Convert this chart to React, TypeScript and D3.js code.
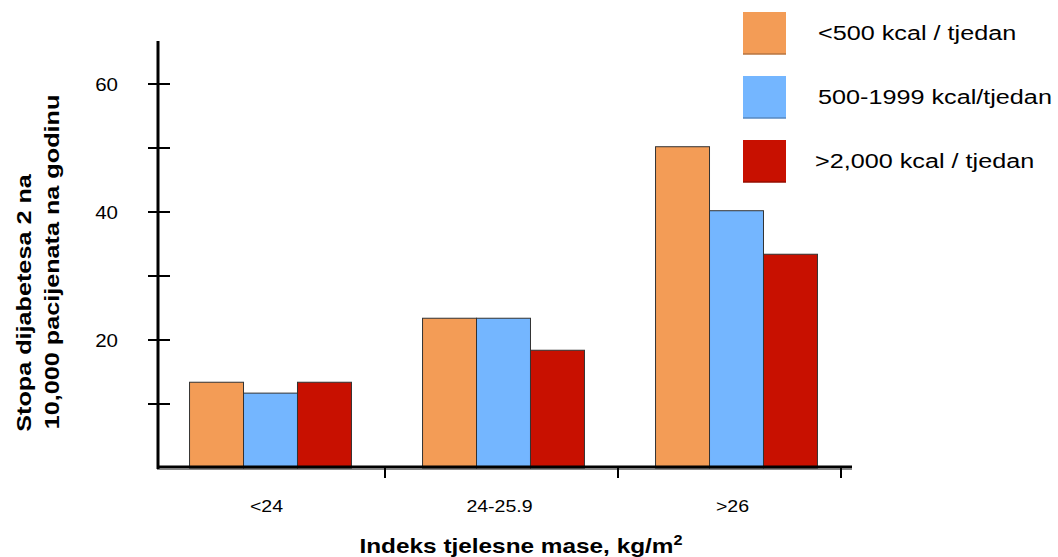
import React from "react";
import * as d3 from "d3";

const categories = ["<24", "24-25.9", ">26"];
const seriesNames = ["<500 kcal / tjedan", "500-1999 kcal/tjedan", ">2,000 kcal / tjedan"];
const lowActivity = [13.4, 23.4, 50.2];
const midActivity = [11.7, 23.4, 40.2];
const highActivity = [13.4, 18.4, 33.4];
const majorTicks = [20, 40, 60];
const minorTicks = [10, 30, 50];
const colors = ["#F39C56", "#74B6FF", "#C81000"];

const W = 1058;
const H = 557;
const FONT = "'Liberation Sans', Arial, Helvetica, sans-serif";

type STProps = {
  x: number;
  y: number;
  sx: number;
  rotate?: number;
  anchor?: "start" | "middle" | "end";
  size: number;
  bold?: boolean;
  dy?: string;
  children: React.ReactNode;
};

function SText({ x, y, sx, rotate = 0, anchor = "start", size, bold, dy, children }: STProps) {
  return (
    <text
      transform={`translate(${x},${y}) rotate(${rotate}) scale(${sx},1)`}
      textAnchor={anchor}
      fontSize={size}
      fontWeight={bold ? "bold" : "normal"}
      dy={dy}
      fill="#000"
    >
      {children}
    </text>
  );
}

export default function App() {
  const series = [lowActivity, midActivity, highActivity];
  const y = d3.scaleLinear().domain([0, 60]).range([468, 84]);
  const x0 = d3.scaleBand<string>().domain(categories).range([154, 853]).paddingInner(0.305).paddingOuter(0.1525);
  const x1 = d3.scaleBand<string>().domain(seriesNames).range([0, x0.bandwidth()]);
  const step = x0.step();
  const axisX0 = 158;
  const axisX1 = 852;
  const yTop = y(66.7);
  const groupTicks = categories.map((c, i) =>
    i < categories.length - 1 ? (x0(c) as number) + x0.bandwidth() / 2 + step / 2 - 2 : axisX1 - 11
  );

  return (
    <svg width={W} height={H} style={{ position: "absolute", left: 0, top: 0, background: "#fff" }} fontFamily={FONT}>
      {/* bars */}
      {categories.map((c, ci) => (
        <g key={c} transform={`translate(${x0(c)},0)`}>
          {seriesNames.map((s, si) => (
            <rect
              key={s}
              x={x1(s)}
              y={y(series[si][ci])}
              width={x1.bandwidth()}
              height={y(0) - y(series[si][ci])}
              fill={colors[si]}
              stroke="#333"
              strokeWidth={1}
            />
          ))}
        </g>
      ))}

      {/* y axis */}
      <line x1={axisX0} x2={axisX0} y1={yTop} y2={469} stroke="#000" strokeWidth={3} />
      {[...majorTicks, ...minorTicks].map((t) => (
        <line key={"t" + t} x1={148} x2={170} y1={y(t)} y2={y(t)} stroke="#000" strokeWidth={2} />
      ))}
      {majorTicks.map((t) => (
        <SText key={"l" + t} x={118} y={y(t)} dy="0.35em" anchor="end" size={19} sx={1.08}>
          {t}
        </SText>
      ))}

      {/* x axis */}
      <line x1={axisX0 - 1} x2={axisX1} y1={467} y2={467} stroke="#000" strokeWidth={3} />
      <line x1={axisX0 - 1} x2={axisX1} y1={469.5} y2={469.5} stroke="#888" strokeWidth={1} />
      {groupTicks.map((gx, i) => (
        <line key={"gt" + i} x1={gx} x2={gx} y1={468} y2={478} stroke="#000" strokeWidth={2} />
      ))}
      {categories.map((c) => (
        <SText key={c} x={(x0(c) as number) + x0.bandwidth() / 2 - 4} y={512} anchor="middle" size={17} sx={1.15}>
          {c}
        </SText>
      ))}

      {/* axis titles */}
      <SText x={521} y={553} anchor="middle" size={21} bold sx={1.16}>
        Indeks tjelesne mase, kg/m
        <tspan dy={-8} fontSize={14}>2</tspan>
      </SText>
      <SText x={31} y={303} rotate={-90} anchor="middle" size={21} bold sx={1.2}>
        Stopa dijabetesa 2 na
      </SText>
      <SText x={59} y={262} rotate={-90} anchor="middle" size={21} bold sx={1.2}>
        10,000 pacijenata na godinu
      </SText>

      {/* legend */}
      {seriesNames.map((s, i) => (
        <g key={s} transform={`translate(743,${12 + i * 64})`}>
          <rect x={0} y={0} width={43} height={42} fill={colors[i]} />
          <line x1={0} x2={43} y1={42} y2={42} stroke={d3.color(colors[i])!.darker(0.8).toString()} strokeWidth={1.5} />
          <SText x={i === 2 ? 72 : 75} y={21} dy="0.35em" size={21} sx={1.2}>
            {s}
          </SText>
        </g>
      ))}
    </svg>
  );
}
